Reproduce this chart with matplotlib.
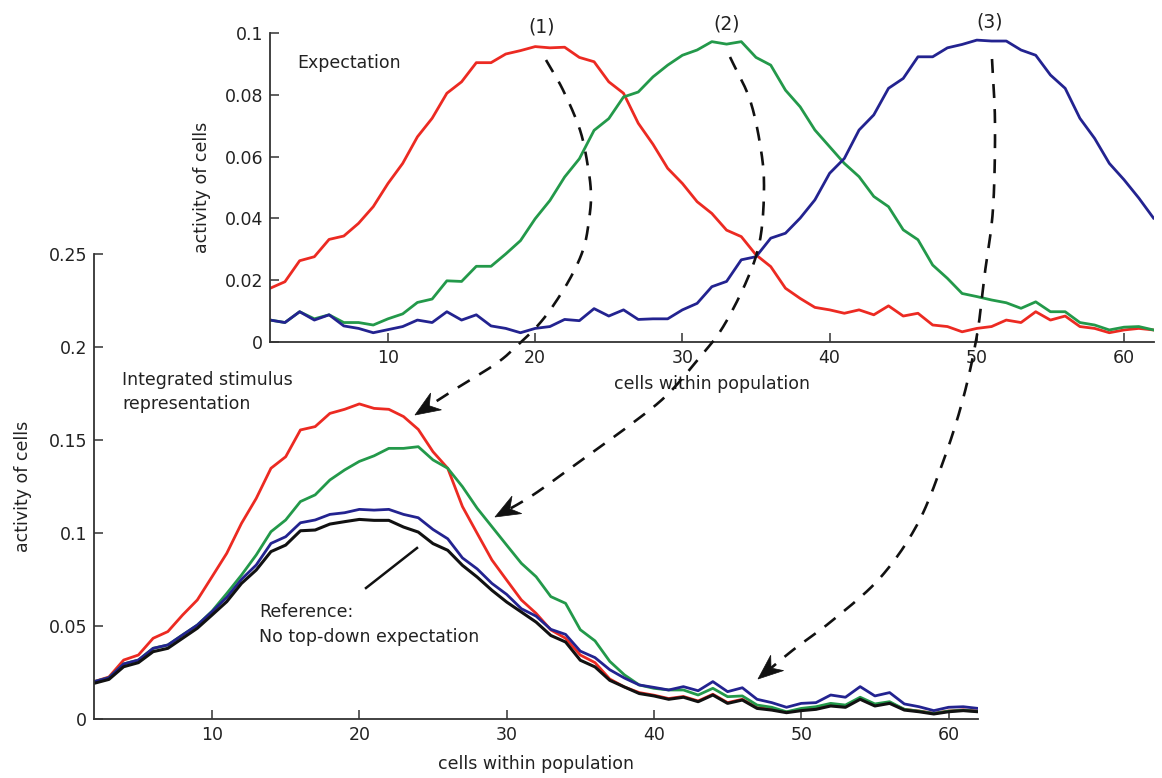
import numpy as np
import matplotlib
matplotlib.use("Agg")
import matplotlib.pyplot as plt
from matplotlib.lines import Line2D
from matplotlib.patches import Polygon

plt.rcParams['font.family'] = ['DejaVu Sans']

# ---------------- data ----------------
cells = list(range(2, 63))

top_red = [0.0174, 0.0195, 0.0263, 0.0276, 0.0332, 0.0343, 0.0384, 0.0438, 0.0513, 0.0578,
           0.0664, 0.0724, 0.0805, 0.0842, 0.0904, 0.0904, 0.0932, 0.0943, 0.0956, 0.0952,
           0.0954, 0.0921, 0.0907, 0.0842, 0.0805, 0.0708, 0.0640, 0.0562, 0.0513, 0.0454,
           0.0416, 0.0362, 0.0341, 0.0282, 0.0244, 0.0174, 0.0141, 0.0112, 0.0104, 0.0093,
           0.0104, 0.0088, 0.0117, 0.0084, 0.0093, 0.0055, 0.0050, 0.0033, 0.0044, 0.0050,
           0.0071, 0.0063, 0.0098, 0.0071, 0.0084, 0.0050, 0.0044, 0.0030, 0.0039, 0.0044,
           0.0039]
top_green = [0.0071, 0.0063, 0.0098, 0.0075, 0.0088, 0.0063, 0.0063, 0.0055, 0.0075, 0.0091,
             0.0128, 0.0139, 0.0198, 0.0196, 0.0245, 0.0245, 0.0285, 0.0328, 0.0399, 0.0458,
             0.0534, 0.0593, 0.0685, 0.0723, 0.0793, 0.0809, 0.0858, 0.0896, 0.0928, 0.0945,
             0.0972, 0.0964, 0.0972, 0.0921, 0.0896, 0.0815, 0.0761, 0.0686, 0.0632, 0.0578,
             0.0535, 0.0471, 0.0438, 0.0363, 0.0331, 0.0249, 0.0206, 0.0157, 0.0147, 0.0136,
             0.0127, 0.0109, 0.0130, 0.0098, 0.0098, 0.0063, 0.0055, 0.0039, 0.0048, 0.0050,
             0.0039]
top_blue = [0.0071, 0.0063, 0.0098, 0.0071, 0.0088, 0.0052, 0.0044, 0.0030, 0.0040, 0.0050,
            0.0071, 0.0063, 0.0098, 0.0071, 0.0088, 0.0052, 0.0044, 0.0030, 0.0044, 0.0050,
            0.0073, 0.0069, 0.0108, 0.0084, 0.0104, 0.0073, 0.0075, 0.0075, 0.0104, 0.0125,
            0.0179, 0.0196, 0.0266, 0.0276, 0.0336, 0.0352, 0.0401, 0.0460, 0.0546, 0.0594,
            0.0686, 0.0735, 0.0821, 0.0853, 0.0923, 0.0923, 0.0952, 0.0963, 0.0977, 0.0974,
            0.0974, 0.0945, 0.0928, 0.0864, 0.0821, 0.0724, 0.0659, 0.0578, 0.0525, 0.0466,
            0.0401]

bot_red = [0.0201, 0.0226, 0.0317, 0.0344, 0.0434, 0.0470, 0.0559, 0.0640, 0.0765, 0.0891,
           0.1052, 0.1186, 0.1348, 0.1410, 0.1554, 0.1572, 0.1643, 0.1665, 0.1694, 0.1670,
           0.1665, 0.1626, 0.1557, 0.1437, 0.1348, 0.1142, 0.0998, 0.0855, 0.0747, 0.0640,
           0.0568, 0.0479, 0.0434, 0.0344, 0.0303, 0.0215, 0.0172, 0.0142, 0.0128, 0.0110,
           0.0121, 0.0097, 0.0133, 0.0088, 0.0106, 0.0061, 0.0052, 0.0038, 0.0049, 0.0056,
           0.0074, 0.0067, 0.0110, 0.0074, 0.0088, 0.0052, 0.0043, 0.0031, 0.0043, 0.0049,
           0.0043]
bot_green = [0.0201, 0.0222, 0.0296, 0.0317, 0.0380, 0.0398, 0.0452, 0.0505, 0.0580, 0.0675,
             0.0774, 0.0882, 0.1007, 0.1070, 0.1169, 0.1205, 0.1285, 0.1339, 0.1385, 0.1415,
             0.1455, 0.1455, 0.1464, 0.1393, 0.1348, 0.1249, 0.1133, 0.1034, 0.0935, 0.0837,
             0.0765, 0.0658, 0.0622, 0.0480, 0.0420, 0.0310, 0.0237, 0.0183, 0.0165, 0.0156,
             0.0156, 0.0129, 0.0165, 0.0120, 0.0124, 0.0075, 0.0063, 0.0039, 0.0057, 0.0066,
             0.0084, 0.0075, 0.0117, 0.0081, 0.0093, 0.0052, 0.0042, 0.0030, 0.0042, 0.0047,
             0.0041]
bot_blue = [0.0201, 0.0222, 0.0296, 0.0317, 0.0380, 0.0398, 0.0452, 0.0505, 0.0577, 0.0654,
            0.0751, 0.0828, 0.0944, 0.0980, 0.1055, 0.1070, 0.1100, 0.1109, 0.1127, 0.1123,
            0.1127, 0.1100, 0.1082, 0.1019, 0.0969, 0.0866, 0.0807, 0.0729, 0.0670, 0.0593,
            0.0553, 0.0482, 0.0455, 0.0365, 0.0330, 0.0265, 0.0220, 0.0183, 0.0170, 0.0156,
            0.0174, 0.0152, 0.0201, 0.0147, 0.0168, 0.0106, 0.0088, 0.0063, 0.0084, 0.0088,
            0.0129, 0.0117, 0.0174, 0.0124, 0.0142, 0.0081, 0.0066, 0.0045, 0.0063, 0.0066,
            0.0057]
bot_black = [0.0192, 0.0213, 0.0281, 0.0303, 0.0362, 0.0380, 0.0434, 0.0488, 0.0559, 0.0631,
             0.0729, 0.0801, 0.0900, 0.0935, 0.1012, 0.1016, 0.1048, 0.1061, 0.1073, 0.1068,
             0.1068, 0.1032, 0.1005, 0.0943, 0.0907, 0.0826, 0.0763, 0.0692, 0.0629, 0.0575,
             0.0521, 0.0449, 0.0414, 0.0316, 0.0280, 0.0208, 0.0172, 0.0137, 0.0124, 0.0106,
             0.0117, 0.0093, 0.0129, 0.0084, 0.0102, 0.0057, 0.0048, 0.0034, 0.0045, 0.0052,
             0.0070, 0.0063, 0.0106, 0.0070, 0.0084, 0.0048, 0.0039, 0.0027, 0.0039, 0.0045,
             0.0039]

top_yticks = [0, 0.02, 0.04, 0.06, 0.08, 0.1]
top_yticklabels = ["0", "0.02", "0.04", "0.06", "0.08", "0.1"]
bot_yticks = [0, 0.05, 0.1, 0.15, 0.2, 0.25]
bot_yticklabels = ["0", "0.05", "0.1", "0.15", "0.2", "0.25"]
xticks = [10, 20, 30, 40, 50, 60]

RED = '#ec2a22'
GREEN = '#23994a'
BLUE = '#232390'
BLACK = '#111111'

# ---------------- figure ----------------
W, H = 1162, 778
fig = plt.figure(figsize=(W / 100, H / 100), dpi=100)


def fx(px):
    return np.asarray(px) / W


def fy(py):
    return 1 - np.asarray(py) / H


def style_axes(ax, yticks, ylabels):
    for s in ['top', 'right']:
        ax.spines[s].set_visible(False)
    for s in ['left', 'bottom']:
        ax.spines[s].set_color('#333333')
        ax.spines[s].set_linewidth(1.3)
    ax.set_xlim(2, 62)
    ax.set_xticks(xticks)
    ax.set_yticks(yticks)
    ax.set_yticklabels(ylabels)
    ax.tick_params(direction='in', length=6.5, width=1.1, color='#333333',
                   labelsize=12.5, labelcolor='#222222', pad=5)
    ax.patch.set_alpha(0)


# bottom axes
axb = fig.add_axes([fx(94.2), fy(719), fx(978) - fx(94.2), fy(254) - fy(719)])
axb.plot(cells, bot_red, color=RED, lw=2.0)
axb.plot(cells, bot_green, color=GREEN, lw=2.0)
axb.plot(cells, bot_blue, color=BLUE, lw=2.0)
axb.plot(cells, bot_black, color=BLACK, lw=2.2)
axb.set_ylim(0, 0.25)
style_axes(axb, bot_yticks, bot_yticklabels)
axb.set_xlabel("cells within population", fontsize=12.5, color='#222222', labelpad=8)
axb.set_ylabel("activity of cells", fontsize=12.5, color='#222222', labelpad=12)

# top axes
axt = fig.add_axes([fx(270.2), fy(342), fx(1153.5) - fx(270.2), fy(33) - fy(342)])
axt.plot(cells, top_red, color=RED, lw=2.0)
axt.plot(cells, top_green, color=GREEN, lw=2.0)
axt.plot(cells, top_blue, color=BLUE, lw=2.0)
axt.set_ylim(0, 0.1)
style_axes(axt, top_yticks, top_yticklabels)
axt.set_xlabel("cells within population", fontsize=12.5, color='#222222', labelpad=6)
axt.set_ylabel("activity of cells", fontsize=12.5, color='#222222', labelpad=10)

# ---------------- texts ----------------
tkw = dict(fontsize=12.5, color='#222222')
fig.text(fx(297), fy(63), "Expectation", va='center', ha='left', **tkw)
fig.text(fx(122), fy(380), "Integrated stimulus", va='center', ha='left', **tkw)
fig.text(fx(122), fy(404), "representation", va='center', ha='left', **tkw)
fig.text(fx(259), fy(612), "Reference:", va='center', ha='left', **tkw)
fig.text(fx(259), fy(637), "No top-down expectation", va='center', ha='left', **tkw)
fig.text(fx(542), fy(27), "(1)", va='center', ha='center', fontsize=13.5, color='#222222')
fig.text(fx(727), fy(24), "(2)", va='center', ha='center', fontsize=13.5, color='#222222')
fig.text(fx(990), fy(22), "(3)", va='center', ha='center', fontsize=13.5, color='#222222')

# reference pointer
fig.add_artist(Line2D([fx(366), fx(417)], [fy(588), fy(548)], color=BLACK, lw=1.8,
                      transform=fig.transFigure))


# ---------------- dashed curved arrows ----------------
def catmull(points, n=20):
    pts = np.asarray(points, float)
    pts = np.vstack([pts[0] * 2 - pts[1], pts, pts[-1] * 2 - pts[-2]])
    out = []
    for i in range(1, len(pts) - 2):
        p0, p1, p2, p3 = pts[i - 1], pts[i], pts[i + 1], pts[i + 2]
        for t in np.linspace(0, 1, n, endpoint=False):
            t2, t3 = t * t, t * t * t
            out.append(0.5 * ((2 * p1) + (-p0 + p2) * t + (2 * p0 - 5 * p1 + 4 * p2 - p3) * t2
                              + (-p0 + 3 * p1 - 3 * p2 + p3) * t3))
    out.append(pts[-2])
    return np.array(out)


def arrow_path(points):
    c = catmull(points)
    tip = c[-1]
    d = np.hypot(*(c - tip).T)
    idx = np.where(d > 20)[0][-1]
    u = (tip - c[idx]) / np.linalg.norm(tip - c[idx])
    nrm = np.array([-u[1], u[0]])
    L, Wd, notch = 25, 10, 8
    back = tip - u * L
    head = np.array([tip, back + nrm * Wd, tip - u * (L - notch), back - nrm * Wd])
    keep = d > L - notch
    line = np.vstack([c[keep], tip - u * (L - notch)])
    fig.add_artist(Line2D(fx(line[:, 0]), fy(line[:, 1]), color=BLACK, lw=1.9,
                          dashes=(5.3, 4.2), solid_capstyle='butt', dash_capstyle='butt',
                          transform=fig.transFigure, zorder=10))
    fig.add_artist(Polygon(np.column_stack([fx(head[:, 0]), fy(head[:, 1])]),
                           closed=True, facecolor=BLACK, edgecolor=BLACK, lw=0.5,
                           transform=fig.transFigure, zorder=11))


arrow1 = [(546, 60), (563, 90), (580, 130), (588, 167), (591, 195), (589, 220), (584, 247),
          (573, 273), (557, 300), (540, 323), (520, 343), (497, 363), (457, 388), (415, 415)]
arrow2 = [(730, 57), (750, 100), (761, 150), (764, 190), (760, 240), (747, 280), (723, 327),
          (700, 357), (667, 395), (630, 425), (583, 459), (533, 495), (495, 517)]
arrow3 = [(992, 59), (995, 124), (993, 209), (985, 272), (977, 335), (963, 399), (943, 462),
          (917, 525), (880, 578), (833, 620), (793, 650), (758, 679)]
for a in (arrow1, arrow2, arrow3):
    arrow_path(a)

fig.savefig("out.png", dpi=100)
